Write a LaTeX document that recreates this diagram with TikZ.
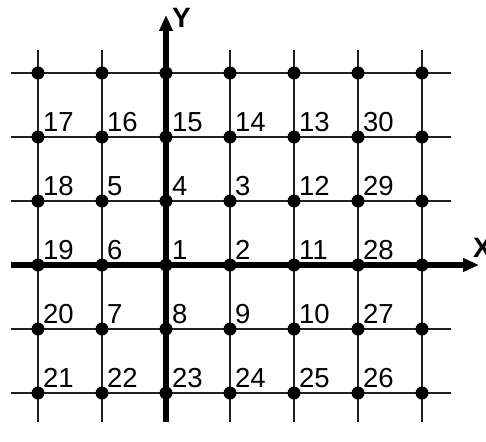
\documentclass[tikz,border=0pt]{standalone}
\usepackage{fontspec}
\setmainfont{Liberation Sans}
\usetikzlibrary{arrows.meta}
\begin{document}
\begin{tikzpicture}[x=1pt,y=-1pt,
  gridline/.style={line width=2pt, black!88},
  axisline/.style={line width=5.5pt, black, -{Triangle[length=16pt,width=13pt]}},
  dot/.style={circle, fill=black, inner sep=0pt, minimum size=13pt},
  lab/.style={anchor=base west, inner sep=0pt, font=\fontsize{27.5}{27.5}\selectfont},
  axlab/.style={anchor=base west, inner sep=0pt, font=\fontsize{28}{28}\selectfont\bfseries}]
\useasboundingbox (0,0) rectangle (486,441);
% vertical grid lines
\foreach \i/\x in {0/38,1/102,3/230,4/294,5/358,6/422} {
  \coordinate (vt\i) at (\x,50);
  \coordinate (vb\i) at (\x,422);
  \draw[gridline] (vt\i) -- (vb\i);
}
% horizontal grid lines
\foreach \j/\y in {0/73,1/137,2/201,4/329,5/393} {
  \coordinate (hl\j) at (11,\y);
  \coordinate (hr\j) at (451,\y);
  \draw[gridline] (hl\j) -- (hr\j);
}
% axes
\coordinate (xs) at (11,265);
\coordinate (xe) at (479,265);
\coordinate (ys) at (166,422);
\coordinate (ye) at (166,15);
\draw[axisline] (xs) -- (xe);
\draw[axisline] (ys) -- (ye);
\node[axlab] (xl) at (473,257) {X};
\node[axlab] (yl) at (172,28) {Y};
% dots
\foreach \i/\x in {0/38,1/102,2/166,3/230,4/294,5/358,6/422} {
  \foreach \j/\y in {0/73,1/137,2/201,3/265,4/329,5/393} {
    \node[dot] (d\i\j) at (\x,\y) {};
  }
}
% labels
\foreach \j/\y/\a/\b/\c/\d/\e/\f in {
  1/137/17/16/15/14/13/30,
  2/201/18/5/4/3/12/29,
  3/265/19/6/1/2/11/28,
  4/329/20/7/8/9/10/27,
  5/393/21/22/23/24/25/26} {
  \node[lab] (l0\j) at (43,\y-6) {\a};
  \node[lab] (l1\j) at (107,\y-6) {\b};
  \node[lab] (l2\j) at (172,\y-6) {\c};
  \node[lab] (l3\j) at (235,\y-6) {\d};
  \node[lab] (l4\j) at (299,\y-6) {\e};
  \node[lab] (l5\j) at (363,\y-6) {\f};
}
\end{tikzpicture}
\end{document}
